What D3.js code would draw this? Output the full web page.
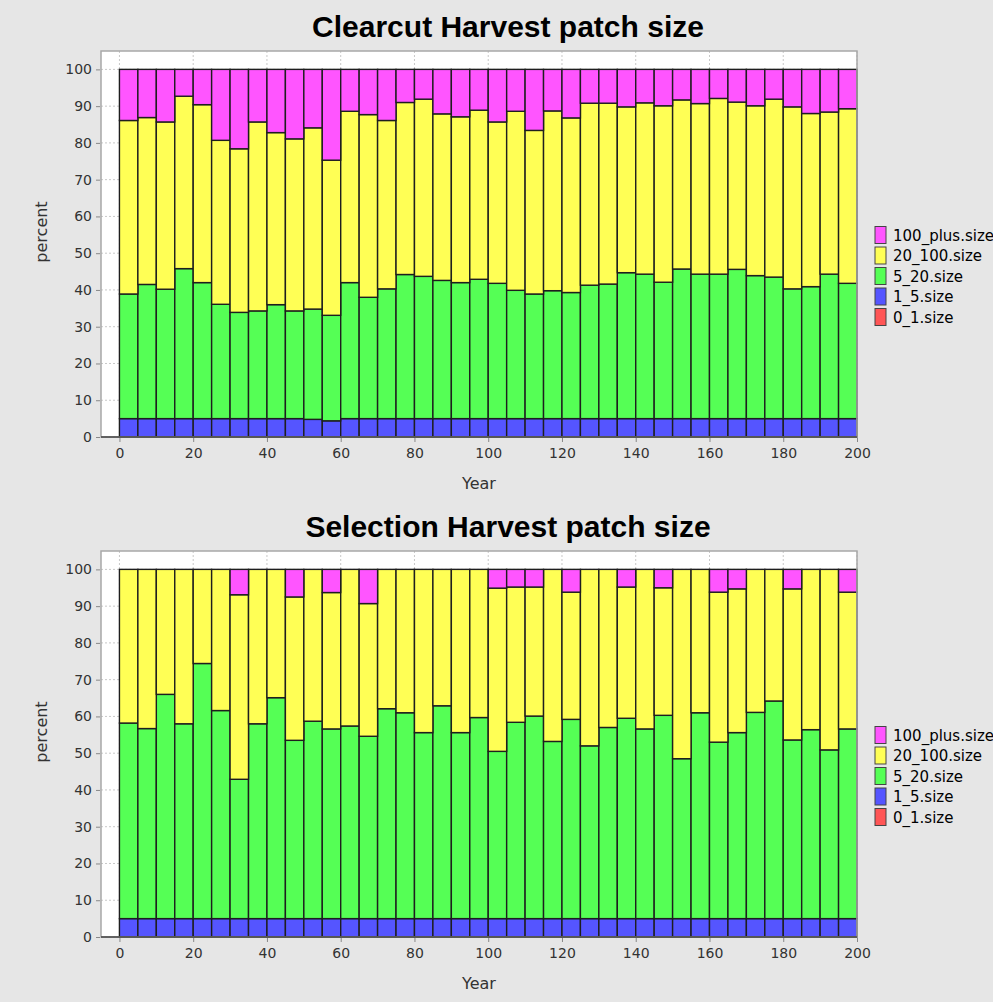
<!DOCTYPE html>
<html><head><meta charset="utf-8">
<script src="https://cdn.jsdelivr.net/npm/d3@7"></script>
<style>body{margin:0;background:#e6e6e6;} svg{display:block}</style>
</head><body><svg id="c" width="993" height="1002"></svg>
<script>
// ---------- DATA ----------
const years = [5,10,15,20,25,30,35,40,45,50,55,60,65,70,75,80,85,90,95,100,105,110,115,120,125,130,135,140,145,150,155,160,165,170,175,180,185,190,195,200];
const seriesNames = ["0_1.size","1_5.size","5_20.size","20_100.size","100_plus.size"];
const seriesColors = ["#ff5555","#5555ff","#55ff55","#ffff55","#ff55ff"];
const xTicks = [0,20,40,60,80,100,120,140,160,180,200];
const yTicks = [0,10,20,30,40,50,60,70,80,90,100];

// Clearcut Harvest
const cc_0_1 = [0,0,0,0,0,0,0,0,0,0,0,0,0,0,0,0,0,0,0,0,0,0,0,0,0,0,0,0,0,0,0,0,0,0,0,0,0,0,0,0];
const cc_1_5 = [5,5,5,5,5,5,5,5,5,5,4.8,4.4,5,5,5,5,5,5,5,5,5,5,5,5,5,5,5,5,5,5,5,5,5,5,5,5,5,5,5,5];
const cc_5_20 = [33.9,36.5,35.2,40.8,37.0,31.1,28.9,29.3,31.0,29.3,30.0,28.7,37.0,33.0,35.3,39.2,38.7,37.6,37.0,37.9,36.8,34.9,33.9,34.8,34.3,36.3,36.6,39.7,39.3,37.1,40.7,39.3,39.3,40.6,38.9,38.5,35.3,35.9,39.3,36.8];
const cc_20_100 = [47.2,45.4,45.5,46.9,48.4,44.6,44.5,51.4,46.8,46.8,49.3,42.2,46.6,49.7,45.8,46.8,48.2,45.3,45.1,46.0,43.9,48.7,44.5,48.9,47.5,49.5,49.2,45.1,46.6,48.0,46.0,46.4,47.8,45.5,46.2,48.4,49.5,47.1,44.1,47.5];
const cc_100_plus = [13.9,13.1,14.3,7.3,9.6,19.3,21.6,14.3,17.2,18.9,15.9,24.7,11.4,12.3,13.9,9.0,8.1,12.1,12.9,11.1,14.3,11.4,16.6,11.3,13.2,9.2,9.2,10.2,9.1,9.9,8.3,9.3,7.9,8.9,9.9,8.1,10.2,12.0,11.6,10.7];

// Selection Harvest
const sel_0_1 = [0,0,0,0,0,0,0,0,0,0,0,0,0,0,0,0,0,0,0,0,0,0,0,0,0,0,0,0,0,0,0,0,0,0,0,0,0,0,0,0];
const sel_1_5 = [5,5,5,5,5,5,5,5,5,5,5,5,5,5,5,5,5,5,5,5,5,5,5,5,5,5,5,5,5,5,5,5,5,5,5,5,5,5,5,5];
const sel_5_20 = [53.2,51.7,61.0,53.0,69.4,56.6,37.9,53.0,60.1,48.5,53.7,51.6,52.4,49.6,57.1,56.0,50.6,57.9,50.6,54.7,45.5,53.4,55.1,48.2,54.2,47.0,52.0,54.5,51.6,55.3,43.5,56.0,48.0,50.6,56.1,59.2,48.6,51.4,45.9,51.6];
const sel_20_100 = [41.8,43.3,34.0,42.0,25.6,38.4,50.2,42.0,34.9,39.0,41.3,37.1,42.6,36.1,37.9,39.0,44.4,37.1,44.4,40.3,44.4,36.8,35.1,46.8,34.6,48.0,43.0,35.7,43.4,34.7,51.5,39.0,40.8,39.1,38.9,35.8,41.1,43.6,49.1,37.2];
const sel_100_plus = [0,0,0,0,0,0,6.9,0,0,7.5,0,6.3,0,9.3,0,0,0,0,0,0,5.1,4.8,4.8,0,6.2,0,0,4.8,0,5.0,0,0,6.2,5.3,0,0,5.3,0,0,6.2];

// ---------- DRAW ----------
const svg = d3.select("#c");
const FONT = "'DejaVu Sans', sans-serif";

function drawChart(offsetY, title, cols) {
  const g = svg.append("g").attr("transform", `translate(0,${offsetY})`);
  const x = d3.scaleLinear().domain([-5, 200]).range([101, 857]);
  const y = d3.scaleLinear().domain([0, 105]).range([437, 51]);

  const rows = years.map((yr, i) => {
    const r = {year: yr};
    seriesNames.forEach((s, k) => r[s] = cols[k][i]);
    return r;
  });
  const stack = d3.stack().keys(seriesNames)(rows);

  // plot background
  g.append("rect").attr("x", x(-5)).attr("y", y(105))
    .attr("width", x(200) - x(-5)).attr("height", y(0) - y(105)).attr("fill", "#fff");

  // gridlines
  g.append("g").selectAll("line").data(xTicks).join("line")
    .attr("x1", d => x(d)).attr("x2", d => x(d)).attr("y1", y(105)).attr("y2", y(0))
    .attr("stroke", "#c8c8c8").attr("stroke-dasharray", "2,2").attr("stroke-width", 1);
  g.append("g").selectAll("line").data(yTicks).join("line")
    .attr("y1", d => y(d)).attr("y2", d => y(d)).attr("x1", x(-5)).attr("x2", x(200))
    .attr("stroke", "#c8c8c8").attr("stroke-dasharray", "2,2").attr("stroke-width", 1);

  // bars
  g.append("g").selectAll("g").data(stack).join("g")
    .attr("fill", (d, i) => seriesColors[i])
    .selectAll("rect").data(d => d).join("rect")
    .attr("x", d => x(d.data.year - 5))
    .attr("width", d => x(d.data.year) - x(d.data.year - 5))
    .attr("y", d => y(d[1]))
    .attr("height", d => y(d[0]) - y(d[1]))
    .attr("stroke", "#1e1e1e").attr("stroke-width", 1.4);

  // frame
  g.append("rect").attr("x", x(-5)).attr("y", y(105))
    .attr("width", x(200) - x(-5)).attr("height", y(0) - y(105))
    .attr("fill", "none").attr("stroke", "#a8a8a8").attr("stroke-width", 1.5);
  g.append("line").attr("x1", x(-5)).attr("x2", x(200)).attr("y1", y(0)).attr("y2", y(0))
    .attr("stroke", "#444").attr("stroke-width", 1.5);

  // axes
  const ya = g.append("g").attr("transform", `translate(${x(-5) - 1},0)`)
    .call(d3.axisLeft(y).tickValues(yTicks).tickSize(4).tickPadding(4));
  const xa = g.append("g").attr("transform", `translate(0,${y(0) + 1})`)
    .call(d3.axisBottom(x).tickValues(xTicks).tickSize(4).tickPadding(6));
  [ya, xa].forEach(a => {
    a.select(".domain").remove();
    a.selectAll(".tick line").attr("stroke", "#888");
    a.selectAll("text").attr("font-family", FONT).attr("font-size", 14).attr("fill", "#333");
  });

  // titles / labels
  g.append("text").attr("x", 508).attr("y", 37).attr("text-anchor", "middle")
    .attr("font-family", "'Liberation Sans', Arial, sans-serif").attr("font-weight", "bold")
    .attr("font-size", 30).attr("fill", "#000").text(title);
  g.append("text").attr("x", (x(-5) + x(200)) / 2).attr("y", 489).attr("text-anchor", "middle")
    .attr("font-family", FONT).attr("font-size", 16).attr("fill", "#333").text("Year");
  g.append("text").attr("transform", `translate(47,232) rotate(-90)`)
    .attr("text-anchor", "middle").attr("font-family", FONT).attr("font-size", 16)
    .attr("fill", "#333").text("percent");

  // legend (top item = last series)
  const leg = g.append("g");
  const items = seriesNames.map((s, i) => ({name: s, color: seriesColors[i]})).reverse();
  const lg = leg.selectAll("g").data(items).join("g")
    .attr("transform", (d, i) => `translate(875,${235 + i * 20.5})`);
  lg.append("rect").attr("x", 0).attr("y", -8.5).attr("width", 11).attr("height", 17)
    .attr("fill", d => d.color).attr("stroke", "#444").attr("stroke-width", 1);
  lg.append("text").attr("x", 18).attr("y", 5.5).attr("font-family", FONT).attr("font-size", 15)
    .attr("fill", "#000").text(d => d.name);
}

drawChart(0, "Clearcut Harvest patch size", [cc_0_1, cc_1_5, cc_5_20, cc_20_100, cc_100_plus]);
drawChart(500, "Selection Harvest patch size", [sel_0_1, sel_1_5, sel_5_20, sel_20_100, sel_100_plus]);
</script></body></html>
